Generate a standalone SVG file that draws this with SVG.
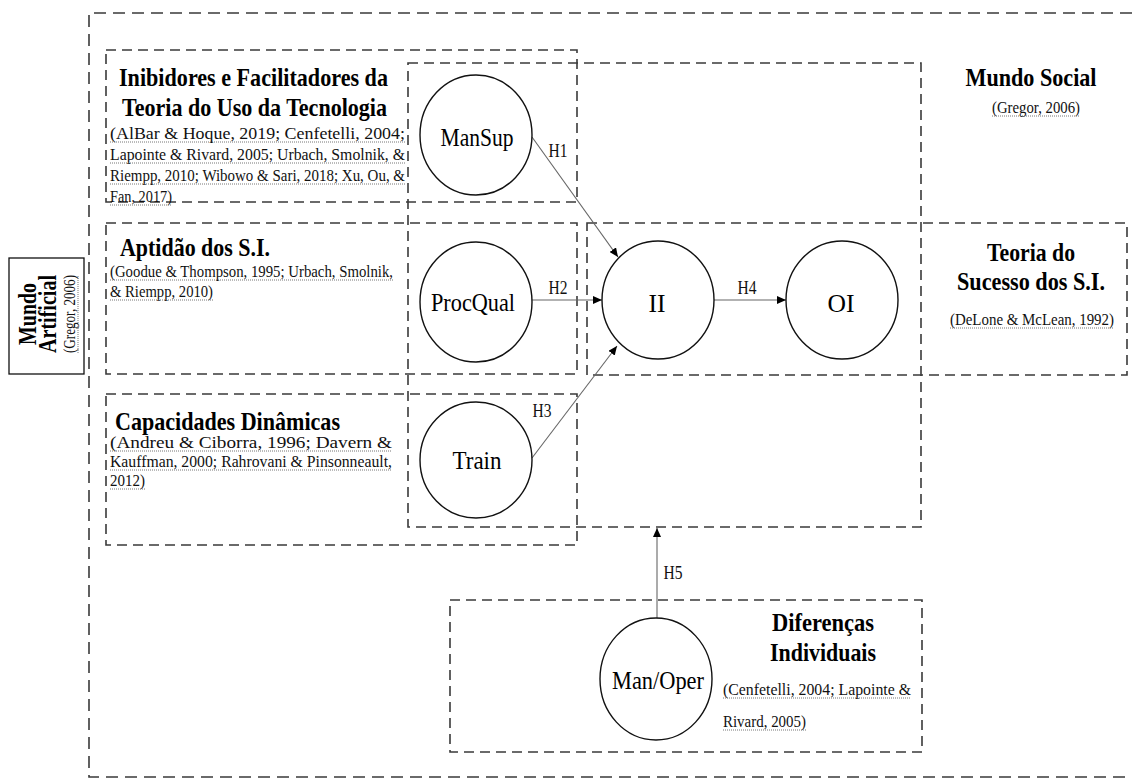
<svg xmlns="http://www.w3.org/2000/svg" width="1132" height="780" viewBox="0 0 1132 780">
  <style>
    .frame { fill: none; stroke: #3a3a3a; stroke-width: 1.6; stroke-dasharray: 12 7; }
    .box { fill: none; stroke: #3a3a3a; stroke-width: 1.6; stroke-dasharray: 10 6; }
    .node { fill: #ffffff; stroke: #111111; stroke-width: 1.4; }
    .edge { fill: none; stroke: #666666; stroke-width: 1.1; }
    .title { font-family: "Liberation Serif", "Times New Roman", serif; font-weight: bold; font-size: 25px; fill: #000; }
    .cite { font-family: "Liberation Serif", "Times New Roman", serif; font-size: 16px; fill: #111; }
    .label { font-family: "Liberation Serif", "Times New Roman", serif; font-size: 26px; fill: #000; text-anchor: middle; }
    .hyp { font-family: "Liberation Serif", "Times New Roman", serif; font-size: 18px; fill: #111; text-anchor: middle; }
    .dots { stroke: #777; stroke-width: 1; stroke-dasharray: 1 1; }
    .mid { text-anchor: middle; }
  </style>
  <defs>
    <marker id="arrow" markerUnits="userSpaceOnUse" markerWidth="10" markerHeight="8" refX="9" refY="4" orient="auto">
      <path d="M0,0 L9,4 L0,8 Z" fill="#000"/>
    </marker>
  </defs>

  <rect width="1132" height="780" fill="#ffffff"/>

  <!-- outer frame (open on the right) -->
  <g id="frame">
    <path class="frame" d="M1132,13 H89 V777 H1132"/>
  </g>

  <!-- Mundo Artificial label -->
  <g id="mundo-artificial">
    <rect x="9" y="258" width="75" height="116" fill="#fff" stroke="#111" stroke-width="1.3"/>
    <g transform="translate(0,314) rotate(-90)">
      <text class="title mid" x="0" y="36" font-size="23" textLength="62" lengthAdjust="spacingAndGlyphs">Mundo</text>
      <text class="title mid" x="0" y="56" font-size="23" textLength="78" lengthAdjust="spacingAndGlyphs">Artificial</text>
      <text class="cite mid" x="0" y="75" font-size="15" textLength="78" lengthAdjust="spacingAndGlyphs">(Gregor, 2006)</text>
      <line class="dots" x1="-39" y1="78" x2="39" y2="78"/>
    </g>
  </g>

  <!-- Inibidores e Facilitadores -->
  <g id="inibidores">
    <rect class="box" x="106" y="50" width="471" height="152"/>
    <text class="title" x="119" y="86" textLength="269" lengthAdjust="spacingAndGlyphs">Inibidores e Facilitadores da</text>
    <text class="title" x="122" y="116" textLength="265" lengthAdjust="spacingAndGlyphs">Teoria do Uso da Tecnologia</text>
    <text class="cite" x="110" y="139" textLength="295" lengthAdjust="spacingAndGlyphs">(AlBar &amp; Hoque, 2019; Cenfetelli, 2004;</text>
    <text class="cite" x="110" y="160" textLength="295" lengthAdjust="spacingAndGlyphs">Lapointe &amp; Rivard, 2005; Urbach, Smolnik, &amp;</text>
    <text class="cite" x="110" y="181" textLength="295" lengthAdjust="spacingAndGlyphs">Riempp, 2010; Wibowo &amp; Sari, 2018; Xu, Ou, &amp;</text>
    <text class="cite" x="110" y="202" textLength="62" lengthAdjust="spacingAndGlyphs">Fan, 2017)</text>
    <line class="dots" x1="110" y1="142" x2="405" y2="142"/>
    <line class="dots" x1="110" y1="163" x2="405" y2="163"/>
    <line class="dots" x1="110" y1="184" x2="405" y2="184"/>
    <line class="dots" x1="110" y1="205" x2="172" y2="205"/>
  </g>

  <!-- Aptidao dos S.I. -->
  <g id="aptidao">
    <rect class="box" x="106" y="223" width="471" height="151"/>
    <text class="title" x="120" y="256" textLength="150" lengthAdjust="spacingAndGlyphs">Aptidão dos S.I.</text>
    <text class="cite" x="110" y="277" textLength="283" lengthAdjust="spacingAndGlyphs">(Goodue &amp; Thompson, 1995; Urbach, Smolnik,</text>
    <text class="cite" x="110" y="297" textLength="103" lengthAdjust="spacingAndGlyphs">&amp; Riempp, 2010)</text>
    <line class="dots" x1="110" y1="280" x2="393" y2="280"/>
    <line class="dots" x1="110" y1="300" x2="213" y2="300"/>
  </g>

  <!-- Capacidades Dinamicas -->
  <g id="capacidades">
    <rect class="box" x="106" y="394" width="471" height="151"/>
    <text class="title" x="115" y="430" textLength="225" lengthAdjust="spacingAndGlyphs">Capacidades Dinâmicas</text>
    <text class="cite" x="110" y="448" textLength="282" lengthAdjust="spacingAndGlyphs">(Andreu &amp; Ciborra, 1996; Davern &amp;</text>
    <text class="cite" x="110" y="467" textLength="282" lengthAdjust="spacingAndGlyphs">Kauffman, 2000; Rahrovani &amp; Pinsonneault,</text>
    <text class="cite" x="110" y="486" textLength="35" lengthAdjust="spacingAndGlyphs">2012)</text>
    <line class="dots" x1="110" y1="451" x2="392" y2="451"/>
    <line class="dots" x1="110" y1="470" x2="392" y2="470"/>
    <line class="dots" x1="110" y1="489" x2="145" y2="489"/>
  </g>

  <!-- Mundo Social -->
  <g id="mundo-social">
    <rect class="box" x="408" y="63" width="513" height="464"/>
    <text class="title mid" x="1031" y="86" textLength="131" lengthAdjust="spacingAndGlyphs">Mundo Social</text>
    <text class="cite mid" x="1036" y="113" textLength="88" lengthAdjust="spacingAndGlyphs">(Gregor, 2006)</text>
    <line class="dots" x1="992" y1="116" x2="1080" y2="116"/>
  </g>

  <!-- Teoria do Sucesso dos S.I. -->
  <g id="teoria-sucesso">
    <rect class="box" x="587" y="223" width="540" height="152"/>
    <text class="title mid" x="1031" y="261" textLength="88" lengthAdjust="spacingAndGlyphs">Teoria do</text>
    <text class="title mid" x="1031" y="290" textLength="148" lengthAdjust="spacingAndGlyphs">Sucesso dos S.I.</text>
    <text class="cite mid" x="1032" y="325" textLength="164" lengthAdjust="spacingAndGlyphs">(DeLone &amp; McLean, 1992)</text>
    <line class="dots" x1="950" y1="328" x2="1114" y2="328"/>
  </g>

  <!-- Diferencas Individuais -->
  <g id="diferencas">
    <rect class="box" x="450" y="600" width="472" height="152"/>
    <text class="title mid" x="823" y="631" textLength="102" lengthAdjust="spacingAndGlyphs">Diferenças</text>
    <text class="title mid" x="823" y="661" textLength="106" lengthAdjust="spacingAndGlyphs">Individuais</text>
    <text class="cite" x="723" y="695" textLength="188" lengthAdjust="spacingAndGlyphs">(Cenfetelli, 2004; Lapointe &amp;</text>
    <text class="cite" x="723" y="727" textLength="83" lengthAdjust="spacingAndGlyphs">Rivard, 2005)</text>
    <line class="dots" x1="723" y1="698" x2="911" y2="698"/>
    <line class="dots" x1="723" y1="730" x2="806" y2="730"/>
  </g>

  <!-- connectors -->
  <g id="connectors">
    <line class="edge" x1="532" y1="137" x2="618" y2="257" marker-end="url(#arrow)"/>
    <line class="edge" x1="532" y1="300" x2="602" y2="300" marker-end="url(#arrow)"/>
    <line class="edge" x1="532" y1="458" x2="617" y2="346" marker-end="url(#arrow)"/>
    <line class="edge" x1="713" y1="300" x2="786" y2="300" marker-end="url(#arrow)"/>
    <line class="edge" x1="657" y1="618" x2="657" y2="528" marker-end="url(#arrow)"/>
    <text class="hyp" x="558" y="157" textLength="19" lengthAdjust="spacingAndGlyphs">H1</text>
    <text class="hyp" x="558" y="294" textLength="19" lengthAdjust="spacingAndGlyphs">H2</text>
    <text class="hyp" x="542" y="417" textLength="19" lengthAdjust="spacingAndGlyphs">H3</text>
    <text class="hyp" x="747" y="294" textLength="19" lengthAdjust="spacingAndGlyphs">H4</text>
    <text class="hyp" x="673" y="579" textLength="19" lengthAdjust="spacingAndGlyphs">H5</text>
  </g>

  <!-- constructs -->
  <g id="node-mansup">
    <ellipse class="node" cx="476" cy="135" rx="56" ry="60"/>
    <text class="label" x="477" y="146" textLength="73" lengthAdjust="spacingAndGlyphs">ManSup</text>
  </g>
  <g id="node-procqual">
    <ellipse class="node" cx="476" cy="302" rx="56" ry="60"/>
    <text class="label" x="473" y="311" textLength="84" lengthAdjust="spacingAndGlyphs">ProcQual</text>
  </g>
  <g id="node-train">
    <ellipse class="node" cx="476" cy="460" rx="56" ry="58"/>
    <text class="label" x="477" y="469" textLength="49" lengthAdjust="spacingAndGlyphs">Train</text>
  </g>
  <g id="node-ii">
    <ellipse class="node" cx="658" cy="300" rx="56" ry="59"/>
    <text class="label" x="657" y="312" textLength="17" lengthAdjust="spacingAndGlyphs">II</text>
  </g>
  <g id="node-oi">
    <ellipse class="node" cx="842" cy="300" rx="56" ry="59"/>
    <text class="label" x="841" y="312" textLength="27" lengthAdjust="spacingAndGlyphs">OI</text>
  </g>
  <g id="node-manoper">
    <ellipse class="node" cx="656" cy="679" rx="56" ry="61"/>
    <text class="label" x="658" y="689" textLength="92" lengthAdjust="spacingAndGlyphs">Man/Oper</text>
  </g>
</svg>
